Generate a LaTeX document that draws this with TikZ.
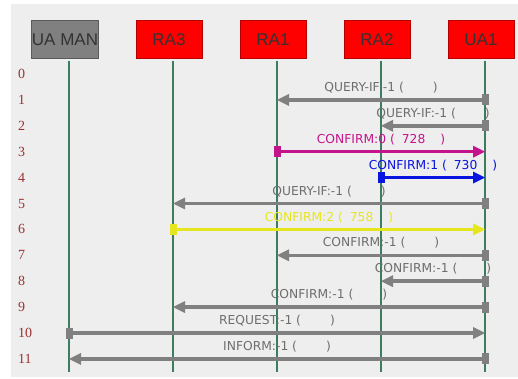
\documentclass[tikz,border=0pt]{standalone}
\usepackage{fontspec}
\setmainfont{DejaVu Sans}
\newfontfamily\hdrfont{Liberation Sans}
\newfontfamily\numfont{Liberation Serif}
\usepackage{tikz}
\usetikzlibrary{arrows.meta}
\definecolor{PanelBg}{HTML}{EEEEEE}
\definecolor{LifeCol}{HTML}{3C7D60}
\definecolor{HdrRed}{HTML}{FF0000}
\definecolor{HdrRedEdge}{HTML}{B40000}
\definecolor{HdrGray}{HTML}{808080}
\definecolor{HdrGrayEdge}{HTML}{5A5A5A}
\definecolor{MsgGray}{HTML}{808080}
\definecolor{LblGray}{HTML}{6E6E6E}
\definecolor{MsgMagenta}{HTML}{C4148C}
\definecolor{MsgBlue}{HTML}{0A14E0}
\definecolor{MsgYellow}{HTML}{E6E61E}
\definecolor{RowNum}{HTML}{9A3232}
\newcommand{\noval}{\hspace{29pt}}
\newcommand{\withval}[1]{\hspace{7pt}#1\hspace{15pt}}

\begin{document}
\begin{tikzpicture}[x=1pt,y=-1pt,
  hdr/.style={draw=HdrRedEdge, fill=HdrRed, line width=1pt, minimum width=66pt,
    minimum height=38pt, inner sep=0pt, font=\hdrfont\fontsize{17}{17}\selectfont,
    text=black!80},
  life/.style={LifeCol, line width=1.3pt},
  rownum/.style={anchor=west, inner sep=0pt, text=RowNum,
    font=\numfont\fontsize{14}{14}\selectfont},
  msg/.style={MsgGray, line width=3.5pt, shorten <=-3.5pt,
    {Square[length=7pt,width=11pt,line width=0pt]}-{Triangle[length=12pt,width=12pt,line width=0pt]}},
  lbl/.style={above=5pt, inner sep=0pt, font=\fontsize{12.3}{12.3}\selectfont}]
  \useasboundingbox (0,0) rectangle (518,379);
  \fill[PanelBg] (11,4) rectangle (518,377);
  % headers
  \node[hdr, draw=HdrGrayEdge, fill=HdrGray] (uaman) at (65,40) {UA MAN};
  \node[hdr] (ra3) at (169,40) {RA3};
  \node[hdr] (ra1) at (273,40) {RA1};
  \node[hdr] (ra2) at (377,40) {RA2};
  \node[hdr] (ua1) at (481,40) {UA1};
  \coordinate (uaman-l) at (69,61);
  \coordinate (ra3-l) at (173,61);
  \coordinate (ra1-l) at (277,61);
  \coordinate (ra2-l) at (381,61);
  \coordinate (ua1-l) at (485,61);
  % lifelines
  \foreach \n in {uaman,ra3,ra1,ra2,ua1}
    \draw[life] (\n-l) -- ++(0,311);
  % row numbers
  \foreach \i in {0,...,11}
    \node[rownum] (r\i) at (18,{74+25.9*\i}) {\i};
  % messages
  \draw[msg] (ua1-l |- r1) -- node[lbl, text=LblGray]{QUERY-IF:-1 (\noval)} (ra1-l |- r1);
  \draw[msg] (ua1-l |- r2) -- node[lbl, text=LblGray]{QUERY-IF:-1 (\noval)} (ra2-l |- r2);
  \draw[msg, MsgMagenta] (ra1-l |- r3) -- node[lbl]{CONFIRM:0 (\withval{728})} (ua1-l |- r3);
  \draw[msg, MsgBlue] (ra2-l |- r4) -- node[lbl]{CONFIRM:1 (\withval{730})} (ua1-l |- r4);
  \draw[msg] (ua1-l |- r5) -- node[lbl, text=LblGray]{QUERY-IF:-1 (\noval)} (ra3-l |- r5);
  \draw[msg, MsgYellow] (ra3-l |- r6) -- node[lbl]{CONFIRM:2 (\withval{758})} (ua1-l |- r6);
  \draw[msg] (ua1-l |- r7) -- node[lbl, text=LblGray]{CONFIRM:-1 (\noval)} (ra1-l |- r7);
  \draw[msg] (ua1-l |- r8) -- node[lbl, text=LblGray]{CONFIRM:-1 (\noval)} (ra2-l |- r8);
  \draw[msg] (ua1-l |- r9) -- node[lbl, text=LblGray]{CONFIRM:-1 (\noval)} (ra3-l |- r9);
  \draw[msg] (uaman-l |- r10) -- node[lbl, text=LblGray]{REQUEST:-1 (\noval)} (ua1-l |- r10);
  \draw[msg] (ua1-l |- r11) -- node[lbl, text=LblGray]{INFORM:-1 (\noval)} (uaman-l |- r11);
\end{tikzpicture}
\end{document}
